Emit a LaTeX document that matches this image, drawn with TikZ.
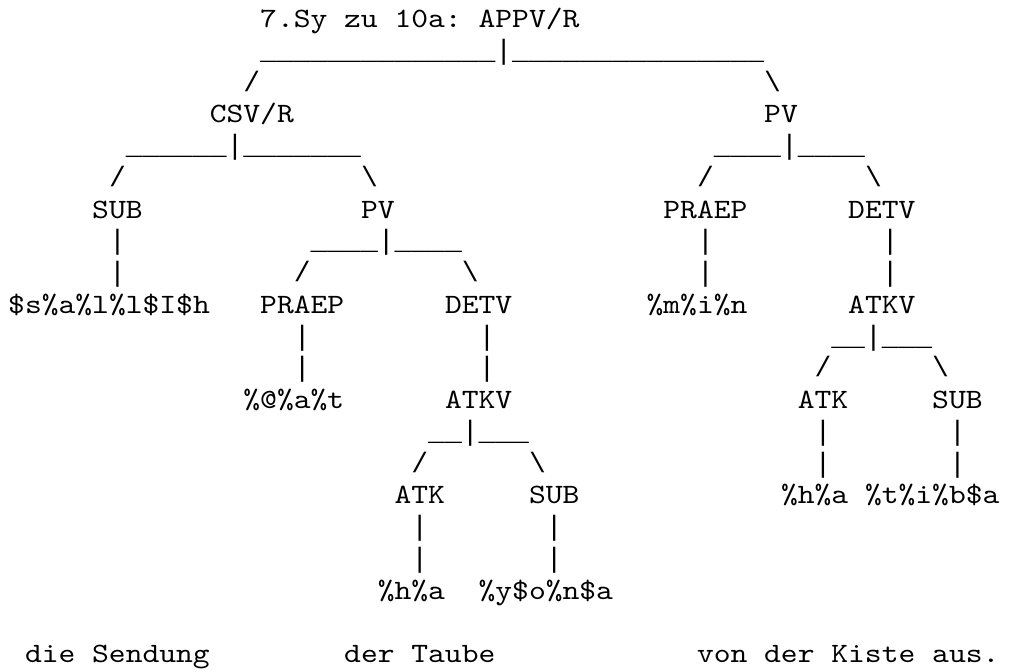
\documentclass[tikz,border=0pt]{standalone}
\usepackage{fontspec}
\setmonofont[FakeStretch=1.143]{lmmono10-regular.otf}
\newfontfamily\linefont{Liberation Mono}
\tikzset{
  tt/.style={anchor=base west, inner sep=0pt,
    font=\fontsize{28}{32}\selectfont\ttfamily\frenchspacing},
  ln/.style={anchor=base west, inner sep=0pt,
    font=\fontsize{28}{32}\selectfont\linefont},
}
\newcommand{\us}[1]{\foreach \i in {1,...,#1}{\_}}
\begin{document}
\begin{tikzpicture}[x=16.8pt, y=-31.75pt, shift={(8pt,-27.5pt)}]
    \useasboundingbox (-8pt,27.5pt) rectangle (1012pt,-642.5pt);
    % root
    \node[tt] (root) at (15,0) {7.Sy zu 10a: APPV/R};
    \node[ln] (rootline) at (15,1) {\us{14}|\us{15}};
    \node[ln] (rootsl) at (14,2) {/};
    \node[ln] (rootsr) at (45,2) {\textbackslash};
    % CSV/R branch
    \node[tt] (csv) at (12,3) {CSV/R};
    \node[ln] (csvline) at (7,4) {\us{6}|\us{7}};
    \node[ln] (csvsl) at (6,5) {/};
    \node[ln] (csvsr) at (21,5) {\textbackslash};
    \node[tt] (sub) at (5,6) {SUB};
    \node[tt] (sallih) at (0,9) {\$s\%a\%l\%l\$I\$h};
    \node[tt] (pvl) at (21,6) {PV};
    \node[ln] (pvlline) at (18,7) {\us{4}|\us{4}};
    \node[ln] (pvlsl) at (17,8) {/};
    \node[ln] (pvlsr) at (27,8) {\textbackslash};
    \node[tt] (praepl) at (15,9) {PRAEP};
    \node[tt] (at) at (14,12) {\%@\%a\%t};
    \node[tt] (detvl) at (26,9) {DETV};
    \node[tt] (atkvl) at (26,12) {ATKV};
    \node[ln] (atkvlline) at (25,13) {\us{2}|\us{3}};
    \node[ln] (atkvlsl) at (24,14) {/};
    \node[ln] (atkvlsr) at (31,14) {\textbackslash};
    \node[tt] (atkl) at (23,15) {ATK};
    \node[tt] (subl) at (31,15) {SUB};
    \node[tt] (hal) at (22,18) {\%h\%a};
    \node[tt] (yona) at (28,18) {\%y\$o\%n\$a};
    % PV branch
    \node[tt] (pvr) at (45,3) {PV};
    \node[ln] (pvrline) at (42,4) {\us{4}|\us{4}};
    \node[ln] (pvrsl) at (41,5) {/};
    \node[ln] (pvrsr) at (51,5) {\textbackslash};
    \node[tt] (praepr) at (39,6) {PRAEP};
    \node[tt] (min) at (38,9) {\%m\%i\%n};
    \node[tt] (detvr) at (50,6) {DETV};
    \node[tt] (atkvr) at (50,9) {ATKV};
    \node[ln] (atkvrline) at (49,10) {\us{2}|\us{3}};
    \node[ln] (atkvrsl) at (48,11) {/};
    \node[ln] (atkvrsr) at (55,11) {\textbackslash};
    \node[tt] (atkr) at (47,12) {ATK};
    \node[tt] (subr) at (55,12) {SUB};
    \node[tt] (har) at (46,15) {\%h\%a};
    \node[tt] (tiba) at (51,15) {\%t\%i\%b\$a};
    % bars
    \foreach \c/\r in {6/7,6/8,41/7,41/8,52/7,52/8,17/10,17/11,28/10,28/11,
        48/13,48/14,56/13,56/14,24/16,24/17,32/16,32/17}
        \node[ln] (bar-\c-\r) at (\c,\r) {|};
    % gloss
    \node[tt] (glossa) at (1,20) {die Sendung};
    \node[tt] (glossb) at (20,20) {der Taube};
    \node[tt] (glossc) at (41,20) {von der Kiste aus.};
\end{tikzpicture}
\end{document}
